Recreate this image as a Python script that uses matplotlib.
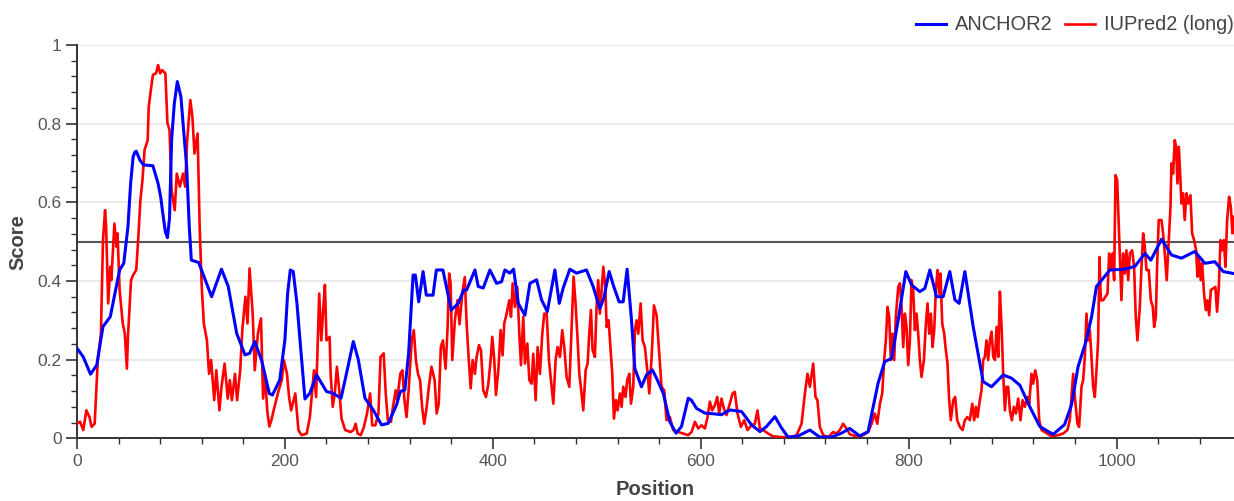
import matplotlib
matplotlib.use("Agg")
import matplotlib.pyplot as plt
from matplotlib.ticker import MultipleLocator, FormatStrFormatter

plt.rcParams['font.family'] = ['Liberation Sans', 'DejaVu Sans']

# IUPred2 (long) disorder score along the sequence
iupred_pos = [
    0, 3, 6, 9, 12, 14, 17, 20, 23, 25, 27, 28, 30, 32, 33, 36, 38, 39, 41, 44,
    46, 48, 49, 52, 54, 57, 59, 61, 63, 65, 68, 69, 71, 73, 76, 78, 80, 82, 85, 87,
    89, 91, 94, 96, 99, 102, 104, 106, 109, 111, 113, 116, 118, 120, 122, 125, 127, 129, 132, 134,
    137, 139, 142, 145, 147, 149, 152, 154, 157, 159, 162, 164, 166, 169, 171, 174, 177, 179, 181, 183,
    185, 187, 190, 194, 197, 199, 202, 204, 206, 210, 213, 216, 221, 224, 226, 228, 230, 233, 235, 237,
    238.5, 240, 243, 244, 246, 248, 250, 252, 254.5, 258, 263, 266, 268, 270, 273, 276, 279, 282, 284, 287,
    290, 292, 295, 297, 299, 302, 304, 306.5, 308, 311, 313, 315, 317, 319, 322, 324, 326, 328, 330, 332,
    334, 336, 338.5, 341, 344, 346, 348, 350, 352, 354.6, 356.5, 358, 359.4, 361, 363.5, 366, 368, 370.6, 373, 374.8,
    376.7, 378.7, 380.6, 382.8, 384.4, 386.7, 388.6, 390.8, 393.4, 395.7, 397.9, 399.5, 401.4, 403, 405.3, 407.5, 409.4, 411, 413.3, 415.8,
    417.5, 419.1, 421.3, 423.5, 425.5, 427.1, 429.3, 430.9, 433.2, 435.1, 437.3, 438.9, 441.2, 443.1, 445.3, 447.6, 449.5, 451.8, 454, 455.9,
    458.2, 460.4, 462.3, 464.6, 466.8, 468.7, 471, 473.6, 475.8, 477.7, 479.6, 481.6, 483.2, 485.4, 487, 489.3, 491.2, 492.8, 494.4, 496,
    498.2, 499.8, 501.4, 503, 504.7, 506.3, 508.2, 509.5, 511.4, 513.3, 514.9, 516.5, 518.4, 520, 522.3, 523.9, 525.5, 527.7, 529.3, 531.3,
    532.9, 535.1, 536.7, 538.3, 539.9, 542.2, 544.1, 546.3, 548.6, 550.5, 552.8, 555, 557.6, 559.8, 562.3, 564.9, 567.1, 570.3, 573.5, 578.3,
    583.2, 588, 591.2, 594.4, 597.6, 600.8, 604, 606.6, 608.8, 611, 613.6, 615.9, 617.8, 620, 622.3, 624.8, 628, 630.6, 632.8, 635.4,
    638.6, 641.8, 645, 648.9, 652.1, 654.6, 656.9, 660.1, 664.9, 669.7, 677.7, 687.3, 692.2, 697, 700.2, 702.7, 705, 708.2, 710.4, 712.3,
    714.6, 717.8, 722.6, 727.4, 730.6, 733.8, 737, 740.2, 743.5, 750, 756.3, 761.1, 764.3, 767.5, 769.8, 772.4, 774.6, 776.5, 778.1, 779.7,
    781.3, 782.9, 784.5, 786.1, 787.7, 790, 791.6, 793.2, 794.8, 796.4, 798, 799.6, 801.2, 802.8, 804.4, 806, 807.6, 809.2, 810.8, 812.4,
    814.7, 816.6, 818.2, 819.8, 821.4, 823, 824.6, 826.2, 827.8, 829.4, 830.7, 832.3, 834.2, 835.8, 837.4, 839, 840.6, 842.9, 844.8, 846.7,
    849.3, 851.9, 854.1, 856.4, 858.9, 861.2, 863.1, 864.7, 866.3, 868.5, 870.1, 871.7, 873.3, 874.9, 876.5, 878.2, 879.8, 881.4, 883, 884.6,
    886.2, 887.8, 889.4, 891, 892.6, 894.2, 895.8, 897.4, 899.3, 901.2, 903.2, 905.4, 907.6, 909.6, 911.8, 914.1, 916, 918.2, 919.8, 921.8,
    923.7, 925.6, 927.9, 932, 937.4, 943.8, 948.6, 952.8, 955, 956.6, 958.3, 959.9, 962.4, 964, 966.3, 967.9, 969.5, 971.1, 972.7, 974.3,
    975.9, 977.5, 979.1, 980.7, 982.3, 983.6, 984.9, 987.1, 989.3, 991.3, 992.9, 994.5, 996.1, 997.7, 999, 1000.6, 1002.2, 1003.5, 1004.7, 1006.3,
    1008, 1009.5, 1011.2, 1012.8, 1015, 1016.9, 1018.5, 1020.1, 1022.4, 1024, 1025.6, 1027.2, 1028.8, 1031, 1033, 1034.9, 1036.2, 1037.8, 1039, 1040.6,
    1043.2, 1044.8, 1046.4, 1048.3, 1050.3, 1051.9, 1052.8, 1054.4, 1056, 1057.3, 1058.6, 1059.9, 1061.2, 1062.4, 1064, 1065.6, 1067.3, 1068.9, 1071.1, 1072.7,
    1074.6, 1076.6, 1077.8, 1079.1, 1081, 1082.3, 1084.2, 1085.9, 1087.5, 1089.1, 1090.7, 1092.9, 1095.1, 1096.7, 1098.4, 1100, 1101.6, 1103.2, 1104.8, 1106.4,
    1108.3, 1109.9, 1111.5, 1112.8,
]
iupred_score = [
    0.037, 0.042, 0.021, 0.071, 0.054, 0.029, 0.037, 0.199, 0.266, 0.504, 0.580, 0.538, 0.343, 0.436, 0.402, 0.546, 0.487, 0.521, 0.377, 0.292,
    0.266, 0.177, 0.258, 0.402, 0.415, 0.428, 0.512, 0.606, 0.657, 0.733, 0.758, 0.843, 0.885, 0.924, 0.928, 0.949, 0.928, 0.936, 0.928, 0.801,
    0.784, 0.631, 0.580, 0.673, 0.640, 0.673, 0.640, 0.758, 0.860, 0.818, 0.724, 0.775, 0.538, 0.385, 0.292, 0.249, 0.164, 0.199, 0.097, 0.173,
    0.071, 0.131, 0.190, 0.101, 0.148, 0.097, 0.164, 0.097, 0.173, 0.275, 0.360, 0.292, 0.432, 0.317, 0.173, 0.266, 0.305, 0.101, 0.160, 0.070,
    0.030, 0.046, 0.080, 0.122, 0.148, 0.199, 0.164, 0.105, 0.071, 0.114, 0.021, 0.008, 0.012, 0.054, 0.114, 0.173, 0.105, 0.368, 0.249, 0.334,
    0.390, 0.249, 0.258, 0.164, 0.080, 0.114, 0.182, 0.131, 0.050, 0.021, 0.016, 0.021, 0.037, 0.012, 0.008, 0.029, 0.063, 0.114, 0.033, 0.033,
    0.063, 0.207, 0.216, 0.114, 0.046, 0.042, 0.080, 0.122, 0.097, 0.164, 0.173, 0.097, 0.054, 0.122, 0.249, 0.275, 0.199, 0.164, 0.148, 0.080,
    0.037, 0.071, 0.131, 0.182, 0.148, 0.063, 0.088, 0.232, 0.249, 0.177, 0.283, 0.419, 0.394, 0.199, 0.300, 0.351, 0.290, 0.368, 0.410, 0.292,
    0.207, 0.127, 0.199, 0.164, 0.207, 0.237, 0.224, 0.122, 0.105, 0.139, 0.199, 0.258, 0.199, 0.110, 0.173, 0.275, 0.211, 0.292, 0.317, 0.351,
    0.309, 0.394, 0.334, 0.385, 0.266, 0.186, 0.309, 0.190, 0.241, 0.148, 0.139, 0.215, 0.097, 0.232, 0.164, 0.266, 0.317, 0.317, 0.199, 0.148,
    0.088, 0.199, 0.232, 0.207, 0.275, 0.232, 0.156, 0.131, 0.283, 0.411, 0.343, 0.249, 0.164, 0.114, 0.071, 0.173, 0.190, 0.266, 0.326, 0.224,
    0.207, 0.334, 0.402, 0.317, 0.377, 0.436, 0.385, 0.283, 0.300, 0.224, 0.164, 0.050, 0.097, 0.071, 0.114, 0.080, 0.131, 0.105, 0.148, 0.164,
    0.088, 0.131, 0.275, 0.300, 0.266, 0.343, 0.249, 0.232, 0.173, 0.114, 0.207, 0.338, 0.312, 0.228, 0.131, 0.122, 0.046, 0.054, 0.021, 0.016,
    0.012, 0.008, 0.016, 0.042, 0.025, 0.033, 0.025, 0.054, 0.093, 0.071, 0.084, 0.105, 0.063, 0.101, 0.076, 0.059, 0.088, 0.114, 0.118, 0.063,
    0.029, 0.046, 0.021, 0.033, 0.037, 0.071, 0.025, 0.021, 0.012, 0.005, 0.003, 0.003, 0.008, 0.037, 0.114, 0.164, 0.131, 0.190, 0.105, 0.097,
    0.029, 0.008, 0.003, 0.016, 0.012, 0.021, 0.037, 0.025, 0.010, 0.005, 0.008, 0.016, 0.037, 0.063, 0.037, 0.088, 0.114, 0.199, 0.249, 0.334,
    0.309, 0.199, 0.266, 0.199, 0.309, 0.385, 0.394, 0.334, 0.232, 0.317, 0.283, 0.186, 0.249, 0.402, 0.377, 0.275, 0.317, 0.266, 0.199, 0.156,
    0.199, 0.292, 0.343, 0.266, 0.317, 0.232, 0.275, 0.377, 0.428, 0.368, 0.419, 0.292, 0.266, 0.224, 0.190, 0.097, 0.046, 0.097, 0.105, 0.046,
    0.029, 0.021, 0.046, 0.054, 0.046, 0.088, 0.046, 0.080, 0.054, 0.097, 0.122, 0.199, 0.207, 0.249, 0.199, 0.249, 0.271, 0.207, 0.199, 0.283,
    0.207, 0.373, 0.283, 0.164, 0.071, 0.131, 0.131, 0.071, 0.046, 0.080, 0.063, 0.101, 0.046, 0.097, 0.080, 0.105, 0.088, 0.164, 0.139, 0.173,
    0.148, 0.046, 0.021, 0.014, 0.005, 0.008, 0.012, 0.021, 0.046, 0.105, 0.164, 0.105, 0.037, 0.029, 0.131, 0.148, 0.207, 0.317, 0.249, 0.275,
    0.207, 0.131, 0.105, 0.173, 0.249, 0.461, 0.351, 0.351, 0.360, 0.368, 0.470, 0.428, 0.470, 0.402, 0.669, 0.657, 0.538, 0.436, 0.351, 0.470,
    0.419, 0.478, 0.402, 0.470, 0.478, 0.436, 0.309, 0.249, 0.334, 0.436, 0.521, 0.487, 0.428, 0.428, 0.351, 0.334, 0.283, 0.309, 0.436, 0.555,
    0.555, 0.521, 0.470, 0.402, 0.504, 0.589, 0.699, 0.673, 0.758, 0.741, 0.648, 0.741, 0.673, 0.597, 0.623, 0.555, 0.623, 0.597, 0.618, 0.521,
    0.504, 0.478, 0.411, 0.461, 0.402, 0.445, 0.368, 0.326, 0.351, 0.313, 0.377, 0.381, 0.385, 0.322, 0.385, 0.504, 0.478, 0.504, 0.436, 0.555,
    0.614, 0.589, 0.521, 0.563,
]

# ANCHOR2 binding score along the sequence
anchor_pos = [
    0, 6, 13, 19, 25, 32, 41, 45, 49, 51.6, 54, 55.8, 57, 60.6, 64, 73, 78, 80.5, 83, 85,
    87, 89, 91, 93.6, 96.5, 100, 102, 105.5, 108, 110, 117, 129.5, 139, 145.5, 153.6, 161.6, 166, 171, 177.6, 185,
    188, 195, 200, 202.6, 205.2, 208, 211.6, 214.5, 219.3, 224, 230.5, 240, 246, 254, 260, 265.8, 270.6, 277, 285, 293,
    299.4, 307.4, 311, 315.4, 319, 323.3, 325.5, 328.7, 332.9, 336, 342.5, 345.7, 352, 360, 366.7, 372, 374.8, 382.8, 386, 390.8,
    397.2, 403.6, 408.4, 411.6, 416.4, 420, 424.5, 430.9, 435.7, 442.1, 446.9, 452.4, 459.7, 463.9, 467.7, 474.1, 480.5, 490.1, 496.5, 502.9,
    506.8, 511.9, 515.8, 521.5, 525.4, 529.2, 533.4, 536.6, 543, 547.8, 553.5, 558, 564, 570.3, 576.3, 581.5, 588, 591, 596, 604,
    613.6, 620, 628, 639.3, 648.9, 657, 663.3, 671.4, 677.8, 684, 693.8, 705, 714.6, 725.8, 735.4, 743.3, 753, 761, 770.6, 777,
    783.6, 790, 797.3, 802.8, 810.8, 815.6, 820.4, 826.8, 833.2, 839.6, 844.5, 848.6, 854.1, 862.1, 871.7, 879.7, 890.9, 898.9, 907, 916.6,
    926.2, 939, 950, 956.7, 963, 971, 976, 980.7, 987.2, 993.6, 1008, 1017.6, 1027.3, 1033, 1043.3, 1052.9, 1062.5, 1075.3, 1085, 1094.6,
    1102.6, 1112.5,
]
anchor_score = [
    0.229, 0.207, 0.163, 0.186, 0.284, 0.309, 0.428, 0.445, 0.538, 0.648, 0.716, 0.728, 0.730, 0.707, 0.695, 0.693, 0.648, 0.614, 0.563, 0.525,
    0.510, 0.560, 0.758, 0.851, 0.907, 0.868, 0.801, 0.690, 0.538, 0.453, 0.447, 0.360, 0.430, 0.386, 0.267, 0.212, 0.216, 0.246, 0.198, 0.114,
    0.110, 0.148, 0.250, 0.368, 0.428, 0.424, 0.343, 0.250, 0.100, 0.115, 0.161, 0.119, 0.115, 0.102, 0.174, 0.246, 0.200, 0.102, 0.072, 0.034,
    0.038, 0.085, 0.119, 0.123, 0.216, 0.415, 0.415, 0.347, 0.424, 0.364, 0.364, 0.428, 0.428, 0.326, 0.343, 0.377, 0.377, 0.428, 0.386, 0.382,
    0.428, 0.394, 0.398, 0.428, 0.420, 0.430, 0.343, 0.313, 0.394, 0.403, 0.352, 0.322, 0.428, 0.343, 0.382, 0.430, 0.420, 0.428, 0.386, 0.330,
    0.356, 0.424, 0.390, 0.347, 0.347, 0.430, 0.301, 0.178, 0.131, 0.161, 0.174, 0.150, 0.114, 0.042, 0.013, 0.030, 0.102, 0.097, 0.076, 0.064,
    0.062, 0.060, 0.072, 0.068, 0.034, 0.017, 0.030, 0.055, 0.026, 0.003, 0.006, 0.021, 0.003, 0.003, 0.013, 0.025, 0.006, 0.017, 0.140, 0.195,
    0.203, 0.301, 0.424, 0.390, 0.373, 0.381, 0.428, 0.360, 0.360, 0.424, 0.352, 0.343, 0.424, 0.284, 0.144, 0.131, 0.161, 0.153, 0.135, 0.080,
    0.030, 0.010, 0.035, 0.085, 0.182, 0.250, 0.309, 0.386, 0.407, 0.428, 0.430, 0.437, 0.470, 0.453, 0.506, 0.466, 0.458, 0.475, 0.445, 0.449,
    0.424, 0.419,
]

y_ticks = [0, 0.2, 0.4, 0.6, 0.8, 1.0]
threshold = 0.5
seq_len = 1113

fig = plt.figure(figsize=(12.34, 5.01), dpi=100)
ax = fig.add_axes([77 / 1234, 1 - 438.3 / 501, 1 - 77 / 1234, (438.3 - 45) / 501])

ax.plot(iupred_pos, iupred_score, color="#ff0000", lw=1.9, label="IUPred2 (long)", zorder=3)
ax.plot(anchor_pos, anchor_score, color="#0000ff", lw=2.2, label="ANCHOR2", zorder=4,
        solid_joinstyle="round")
ax.axhline(threshold, color="#555555", lw=1.5, zorder=2)

ax.set_xlim(0, seq_len)
ax.set_ylim(0, 1)
ax.set_yticks(y_ticks)
ax.yaxis.set_major_formatter(FormatStrFormatter("%g"))
ax.yaxis.set_minor_locator(MultipleLocator(0.04))
ax.xaxis.set_major_locator(MultipleLocator(200))
ax.xaxis.set_minor_locator(MultipleLocator(40))

ax.grid(axis="y", which="major", color="#e6e6e6", lw=1.2, zorder=0)
ax.set_axisbelow(True)

for side in ("top", "right"):
    ax.spines[side].set_visible(False)
for side in ("left", "bottom"):
    ax.spines[side].set_color("#333333")
    ax.spines[side].set_linewidth(1.4)

ax.tick_params(which="major", length=8, width=1.2, color="#333333",
               labelsize=12.5, labelcolor="#555555", pad=3)
ax.tick_params(which="minor", length=4.5, width=1.0, color="#333333")

ax.set_xlabel("Position", fontsize=14.5, fontweight="bold", color="#444444")
ax.set_ylabel("Score", fontsize=14.5, fontweight="bold", color="#444444")
ax.xaxis.set_label_coords(0.5, -0.105)
ax.yaxis.set_label_coords(-0.043, 0.5)

handles, labels = ax.get_legend_handles_labels()
fig.legend(handles[::-1], labels[::-1], loc="center right", bbox_to_anchor=(1.0, 1 - 25 / 501),
           ncol=2, frameon=False, fontsize=14.4, labelcolor="#444444",
           handlelength=1.5, handletextpad=0.45, columnspacing=0.6,
           borderpad=0, borderaxespad=0)

fig.savefig("out.png", dpi=100)
